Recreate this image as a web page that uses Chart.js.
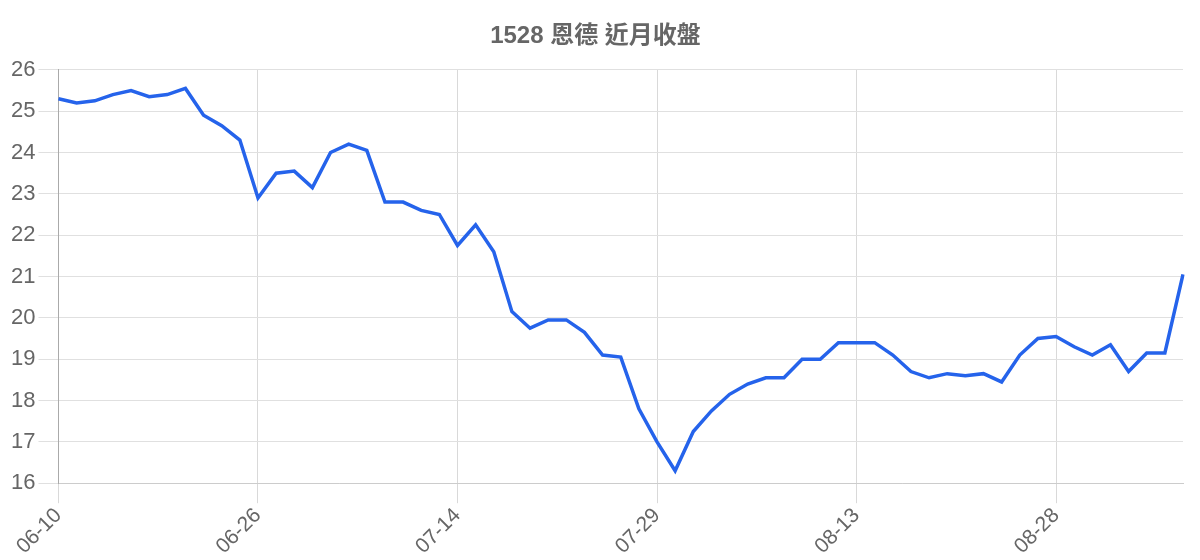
<!DOCTYPE html>
<html>
<head>
<meta charset="utf-8">
<script src="https://cdn.jsdelivr.net/npm/chart.js@4/dist/chart.umd.min.js"></script>
<style>
  html, body { margin: 0; padding: 0; background: #fff; }
  #wrap { width: 1200px; height: 560px; }
</style>
</head>
<body>
<div id="wrap"><canvas id="chart"></canvas></div>
<script>
// trading days (mm-dd)
const dates = [
  '06-10','06-11','06-12','06-13','06-16','06-17','06-18','06-19','06-20','06-23','06-24',
  '06-26','06-27','06-30','07-01','07-02','07-03','07-04','07-07','07-08','07-09','07-10',
  '07-14','07-15','07-16','07-17','07-18','07-21','07-22','07-23','07-24','07-25','07-28',
  '07-29','07-30','07-31','08-01','08-04','08-05','08-06','08-07','08-08','08-11','08-12',
  '08-13','08-14','08-15','08-18','08-19','08-20','08-21','08-22','08-25','08-26','08-27',
  '08-28','08-29','09-01','09-02','09-03','09-04','09-05','09-08'
];

// near-month close
const closes = [
  25.3, 25.2, 25.25, 25.4, 25.5, 25.35, 25.4, 25.55, 24.9, 24.65, 24.3,
  22.9, 23.5, 23.55, 23.15, 24.0, 24.2, 24.05, 22.8, 22.8, 22.6, 22.5,
  21.75, 22.25, 21.6, 20.15, 19.75, 19.95, 19.95, 19.65, 19.1, 19.05, 17.8,
  17.0, 16.3, 17.25, 17.75, 18.15, 18.4, 18.55, 18.55, 19.0, 19.0, 19.4,
  19.4, 19.4, 19.1, 18.7, 18.55, 18.65, 18.6, 18.65, 18.45, 19.1, 19.5,
  19.55, 19.3, 19.1, 19.35, 18.7, 19.15, 19.15, 21.05
];

const yTicks = [16, 17, 18, 19, 20, 21, 22, 23, 24, 25, 26];
const labelEvery = 11;

const FONT = '"Liberation Sans", Arial, "Noto Sans CJK TC", sans-serif';
Chart.defaults.font.family = FONT;
Chart.defaults.color = '#666';

new Chart(document.getElementById('chart'), {
  type: 'line',
  data: {
    labels: dates,
    datasets: [{
      label: '近月收盤',
      data: closes,
      borderColor: '#2563eb',
      borderWidth: 3.5,
      pointRadius: 0,
      tension: 0,
      fill: false
    }]
  },
  options: {
    responsive: true,
    maintainAspectRatio: false,
    animation: false,
    layout: { padding: { left: 8, right: 17, top: 0, bottom: 1 } },
    plugins: {
      legend: { display: false },
      title: {
        display: true,
        text: '1528 恩德 近月收盤',
        color: '#666',
        font: { size: 24, weight: 'bold', family: FONT },
        padding: { top: 22, bottom: 19 }
      },
      tooltip: { enabled: false }
    },
    scales: {
      x: {
        offset: false,
        grid: { color: '#d9d9d9', tickLength: 20 },
        border: { color: '#cccccc' },
        ticks: {
          autoSkip: false,
          maxRotation: 45,
          minRotation: 45,
          padding: 0,
          font: { size: 21 },
          color: '#666',
          callback: function (val, i) {
            return i % labelEvery === 0 ? this.getLabelForValue(val) : null;
          }
        }
      },
      y: {
        min: yTicks[0],
        max: yTicks[yTicks.length - 1],
        grid: { color: '#e0e0e0', tickLength: 20 },
        border: { color: '#aaaaaa' },
        afterBuildTicks: axis => { axis.ticks = yTicks.map(v => ({ value: v })); },
        ticks: { font: { size: 22 }, color: '#666', padding: 3 }
      }
    }
  }
});
</script>
</body>
</html>
